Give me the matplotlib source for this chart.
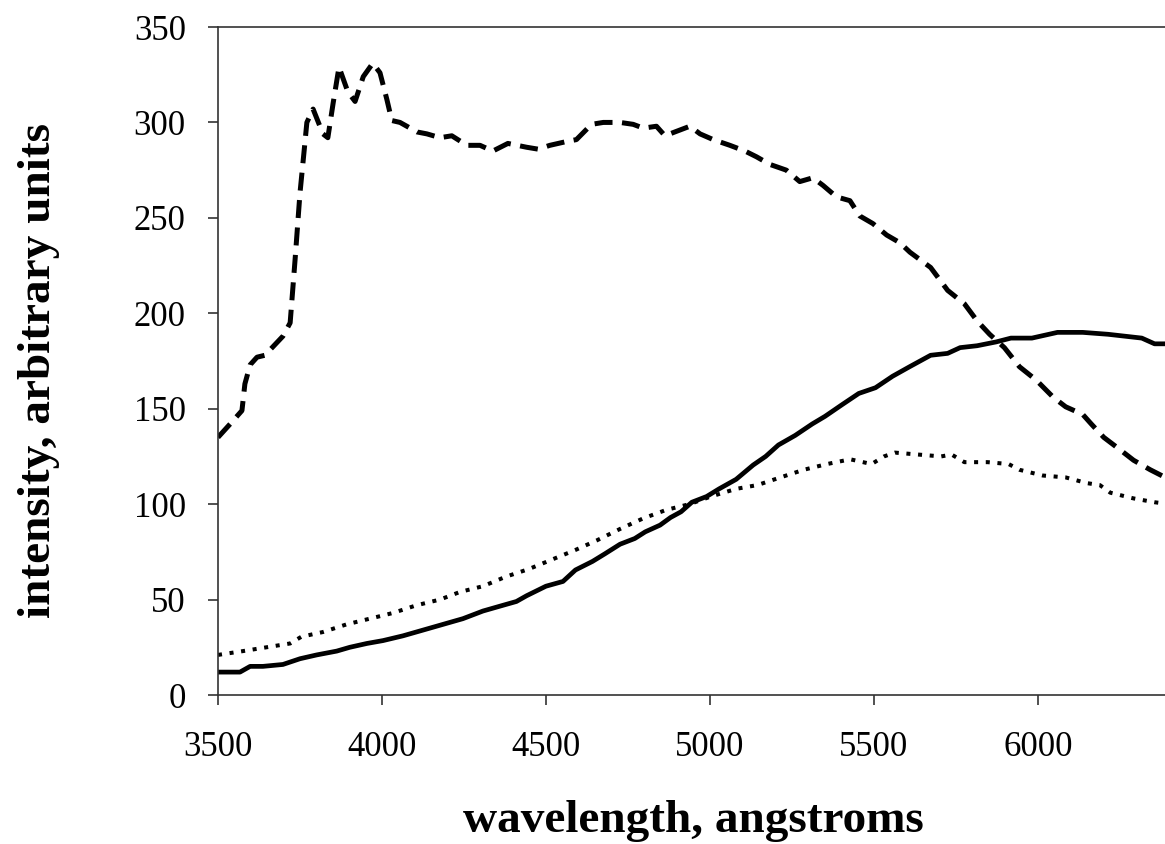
import matplotlib
matplotlib.use('Agg')
import matplotlib.pyplot as plt

# Fonts / colors
serif = 'Liberation Serif'
ink = 'black'
spine_color = '#333333'

# Dashed curve (top one, peaks near 4000)
dash_wl = [3500, 3537, 3573, 3582, 3598, 3619, 3643, 3665, 3698, 3720, 3735, 3750,
           3762, 3771, 3790, 3820, 3835, 3851, 3869, 3896, 3918, 3943, 3972, 3994,
           4015, 4030, 4055, 4107, 4137, 4177, 4213, 4259, 4299, 4338, 4384, 4441,
           4476, 4512, 4563, 4593, 4639, 4675, 4726, 4766, 4797, 4837, 4863, 4893,
           4939, 4970, 5010, 5061, 5107, 5142, 5183, 5233, 5274, 5314, 5345, 5386,
           5427, 5457, 5497, 5539, 5579, 5610, 5673, 5725, 5776, 5815, 5853, 5898,
           5944, 5995, 6047, 6085, 6137, 6163, 6201, 6247, 6292, 6343, 6400]
dash_val = [135, 142, 149, 163, 173, 177, 178, 182, 188, 195, 228, 263,
            284, 300, 307, 294, 292, 310, 329, 316, 311, 324, 331, 326,
            312, 301, 300, 295, 294, 292, 293, 288, 288, 285, 289, 287,
            286, 288, 290, 291, 299, 300, 300, 299, 297, 298, 293, 295,
            298, 294, 291, 288, 285, 282, 278, 275, 269, 271, 267, 261,
            259, 251, 247, 241, 237, 232, 224, 212, 205, 196, 189, 182,
            172, 165, 156, 151, 147, 142, 135, 129, 123, 118, 113]

# Solid curve
solid_wl = [3500, 3567, 3598, 3637, 3698, 3750, 3801, 3862, 3902, 3954, 4003, 4064,
            4125, 4186, 4247, 4308, 4369, 4410, 4441, 4500, 4552, 4590, 4642, 4680,
            4726, 4771, 4803, 4848, 4880, 4912, 4945, 4990, 5028, 5080, 5132, 5170,
            5209, 5260, 5312, 5351, 5402, 5454, 5505, 5557, 5609, 5673, 5725, 5763,
            5815, 5873, 5918, 5982, 6060, 6137, 6214, 6317, 6356, 6400]
solid_val = [12, 12, 15, 15, 16, 19, 21, 23, 25, 27, 28.5, 31,
             34, 37, 40, 44, 47, 49, 52, 57, 59.5, 65.5, 70, 74,
             79, 82, 85.5, 89, 93, 96, 101, 104, 108, 113, 120.5, 125,
             131, 136, 142, 146, 152, 158, 161, 167, 172, 178, 179, 182,
             183, 185, 187, 187, 190, 190, 189, 187, 184, 184]

# Dotted curve
dot_wl = [3500, 3576, 3648, 3720, 3754, 3820, 3892, 3963, 4034, 4105, 4177, 4238,
          4308, 4378, 4448, 4519, 4590, 4655, 4726, 4796, 4867, 4938, 5003, 5080,
          5145, 5215, 5286, 5357, 5428, 5493, 5531, 5564, 5634, 5705, 5737, 5776,
          5847, 5911, 5944, 6015, 6085, 6150, 6189, 6221, 6292, 6356, 6400]
dot_val = [21, 23, 25, 27, 30.5, 33, 37, 40, 43, 47, 50, 54,
           57, 62, 66, 71, 76, 81, 87, 92.5, 97, 100, 104, 108,
           110, 114, 118, 121, 123.5, 121, 125, 127, 126, 125, 126, 122,
           122, 121, 118, 115, 114, 111, 110, 106, 103, 101, 100]

x_ticks = [3500, 4000, 4500, 5000, 5500, 6000]
y_ticks = [0, 50, 100, 150, 200, 250, 300, 350]

fig = plt.figure(figsize=(11.65, 8.44), dpi=100)
fig.set_facecolor('white')

# Axes runs a few pixels past the right edge, so the right spine is cut off
ax = fig.add_axes([218 / 1165, 149 / 844, 951 / 1165, 668 / 844])

ax.plot(dash_wl, dash_val, color=ink, lw=3.6, linestyle=(0, (3.6, 1.9)),
        dash_capstyle='butt', solid_joinstyle='round')
ax.plot(solid_wl, solid_val, color=ink, lw=3.4, solid_joinstyle='round')
ax.plot(dot_wl, dot_val, color=ink, lw=2.9, linestyle=(0, (1, 1.9)),
        dash_capstyle='butt')

ax.set_xlim(3500, 6400)
ax.set_ylim(0, 350)
ax.set_xticks(x_ticks)
ax.set_yticks(y_ticks)

for spine in ax.spines.values():
    spine.set_color(spine_color)
    spine.set_linewidth(1.2)

ax.tick_params(axis='both', direction='out', length=7.2, width=1.2,
               color=spine_color, labelsize=25, labelcolor=ink)
ax.tick_params(axis='x', pad=19)
ax.tick_params(axis='y', pad=16)
for lbl in ax.get_xticklabels() + ax.get_yticklabels():
    lbl.set_fontfamily(serif)

# Axis titles placed in figure pixels
fig.text(693 / 1165, 12 / 844, 'wavelength, angstroms', ha='center', va='baseline',
         fontsize=34, fontweight='bold', family=serif)
fig.text(50 / 1165, (844 - 370) / 844, 'intensity, arbitrary units', rotation=90,
         rotation_mode='anchor', ha='center', va='baseline',
         fontsize=34, fontweight='bold', family=serif)

fig.savefig('out.png', dpi=100, facecolor='white')
